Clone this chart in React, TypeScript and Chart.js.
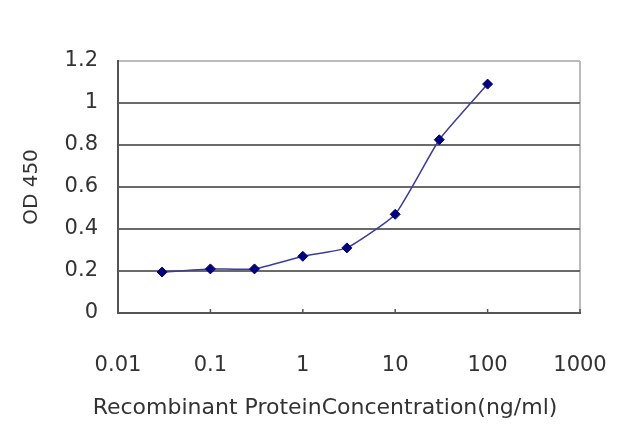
import React, { useEffect, useRef } from "react";
import { Chart, registerables } from "chart.js";

Chart.register(...registerables);

const concentrations = [0.03, 0.1, 0.3, 1, 3, 10, 30, 100];
const odValues = [0.195, 0.21, 0.21, 0.27, 0.31, 0.47, 0.825, 1.09];
const xTickValues = [0.01, 0.1, 1, 10, 100, 1000];
const xTickLabels = ["0.01", "0.1", "1", "10", "100", "1000"];
const yTickLabels = ["0", "0.2", "0.4", "0.6", "0.8", "1", "1.2"];

const FONT = "'DejaVu Sans', 'Liberation Sans', sans-serif";

const innerTicks = {
  id: "innerTicks",
  afterDatasetsDraw(chart: any) {
    const x = chart.scales.x;
    const bottom = chart.chartArea.bottom;
    const ctx = chart.ctx;
    ctx.save();
    ctx.strokeStyle = "#555555";
    ctx.lineWidth = 1.5;
    xTickValues.forEach((v) => {
      const px = x.getPixelForValue(v);
      ctx.beginPath();
      ctx.moveTo(px, bottom);
      ctx.lineTo(px, bottom - 4);
      ctx.stroke();
    });
    ctx.restore();
  },
};

export default function App() {
  const ref = useRef<HTMLCanvasElement | null>(null);

  useEffect(() => {
    if (!ref.current) return;
    const chart = new Chart(ref.current, {
      type: "line",
      data: {
        datasets: [
          {
            data: concentrations.map((c, i) => ({ x: c, y: odValues[i] })),
            borderColor: "#3c3ca0",
            borderWidth: 1.5,
            backgroundColor: "#000080",
            pointBackgroundColor: "#000080",
            pointBorderColor: "#000080",
            pointStyle: "rectRot",
            pointRadius: 5,
            pointBorderWidth: 1,
            tension: 0.15,
            fill: false,
          },
        ],
      },
      options: {
        animation: false,
        responsive: false,
        maintainAspectRatio: false,
        layout: { padding: { left: 10, right: 0, top: 53, bottom: 0 } },
        plugins: {
          legend: { display: false },
          tooltip: { enabled: false },
          title: {
            display: true,
            position: "bottom",
            text: "Recombinant ProteinConcentration(ng/ml)",
            color: "#333333",
            font: { family: FONT, size: 22, weight: "normal", lineHeight: 1 },
            padding: { top: 0, bottom: 0 },
          },
        },
        scales: {
          x: {
            type: "logarithmic",
            min: 0.01,
            max: 1000,
            afterBuildTicks: (scale: any) => {
              scale.ticks = xTickValues.map((v) => ({ value: v }));
            },
            afterFit: (scale: any) => {
              scale.height = 84;
              scale.paddingLeft = 0;
              scale.paddingRight = 52;
            },
            ticks: {
              autoSkip: false,
              maxRotation: 0,
              padding: 40,
              color: "#333333",
              font: { family: FONT, size: 21 },
              callback: (value: any) => {
                const i = xTickValues.indexOf(Number(value));
                return i >= 0 ? xTickLabels[i] : "";
              },
            },
            grid: {
              drawTicks: false,
              lineWidth: 2,
              color: (ctx: any) =>
                ctx.tick && ctx.tick.value === 1000 ? "#bbbbbb" : "rgba(0,0,0,0)",
            },
            border: { display: true, color: "#555555", width: 2 },
          },
          y: {
            min: 0,
            max: 1.2,
            afterBuildTicks: (scale: any) => {
              scale.ticks = yTickLabels.map((t) => ({ value: Number(t) }));
            },
            afterFit: (scale: any) => {
              scale.width = 100;
            },
            ticks: {
              padding: 20,
              color: "#333333",
              font: { family: FONT, size: 21 },
              callback: (value: any) => {
                const i = yTickLabels.findIndex((t) => Math.abs(Number(t) - Number(value)) < 1e-9);
                return i >= 0 ? yTickLabels[i] : "";
              },
            },
            grid: {
              drawTicks: false,
              lineWidth: 2,
              color: (ctx: any) => {
                const v = ctx.tick ? ctx.tick.value : 0;
                if (Math.abs(v - 1.2) < 1e-9) return "#bbbbbb";
                return "#6a6a6a";
              },
            },
            border: { display: true, color: "#555555", width: 2 },
            title: {
              display: true,
              text: "OD 450",
              color: "#333333",
              font: { family: FONT, size: 20, weight: "normal" },
              padding: { top: 2, bottom: 0 },
            },
          },
        },
      },
      plugins: [innerTicks],
    });
    return () => chart.destroy();
  }, []);

  return (
    <div style={{ width: 624, height: 411 }}>
      <canvas ref={ref} width={624} height={411} style={{ display: "block" }} />
    </div>
  );
}
